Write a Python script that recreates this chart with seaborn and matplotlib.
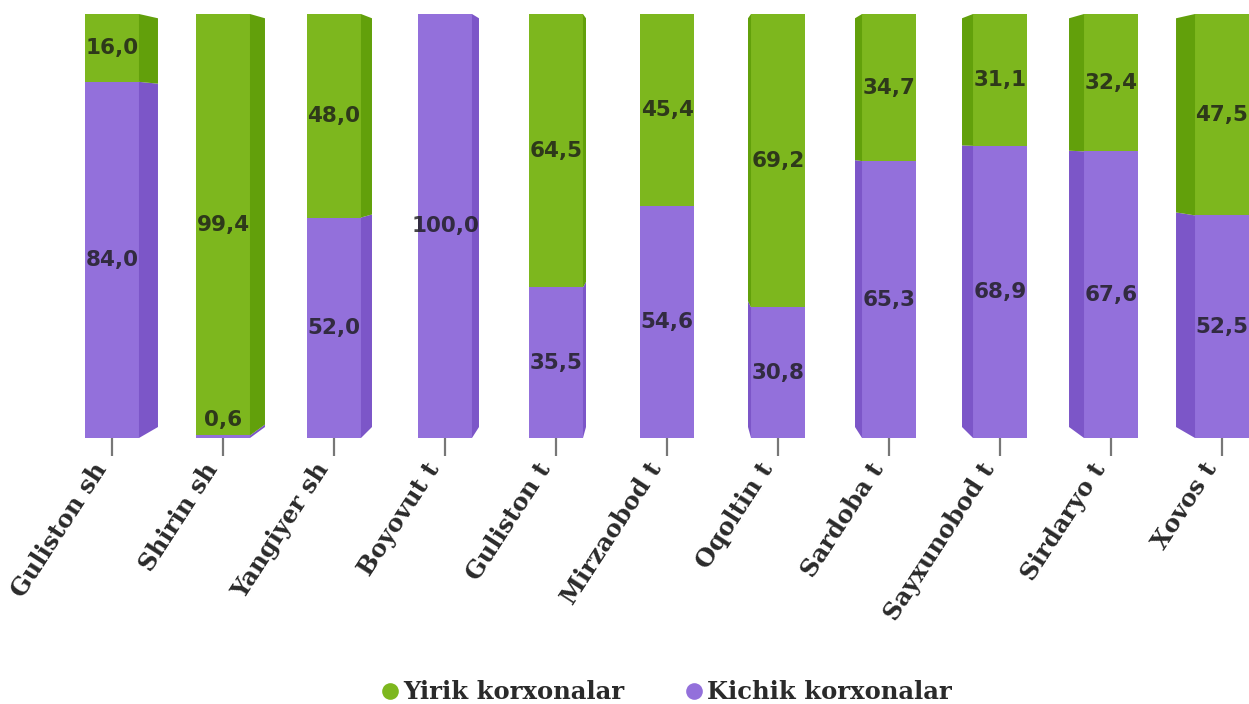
import numpy as np
import pandas as pd
import matplotlib
matplotlib.use('Agg')
import matplotlib.pyplot as plt
import seaborn as sns
from matplotlib.patches import Polygon
from matplotlib.lines import Line2D

# Data
districts = ['Guliston sh', 'Shirin sh', 'Yangiyer sh', 'Boyovut t', 'Guliston t',
             'Mirzaobod t', 'Oqoltin t', 'Sardoba t', 'Sayxunobod t', 'Sirdaryo t', 'Xovos t']
yirik = [16.0, 99.4, 48.0, 0.0, 64.5, 45.4, 69.2, 34.7, 31.1, 32.4, 47.5]
kichik = [84.0, 0.6, 52.0, 100.0, 35.5, 54.6, 30.8, 65.3, 68.9, 67.6, 52.5]

df = pd.DataFrame({'district': districts, 'yirik': yirik, 'kichik': kichik})
df['total'] = df['yirik'] + df['kichik']

green, green_side = '#7db71e', '#62a00b'
purple, purple_side = '#9370db', '#7c56c8'

sns.set_style('white')

fig = plt.figure(figsize=(12.49, 7.04), dpi=100)
ax = fig.add_axes([56.5 / 1249, 266 / 704, 1221 / 1249, 424 / 704])

bar_w = 0.486
sns.barplot(data=df, x='district', y='total', color=green, saturation=1,
            width=bar_w, linewidth=0, ax=ax)
sns.barplot(data=df, x='district', y='kichik', color=purple, saturation=1,
            width=bar_w, linewidth=0, ax=ax)

# fake 3D side faces, converging to a vanishing point
vx, vy, k = 5.0, 72.0, 0.036
for i in range(len(df)):
    if i == vx:
        continue
    xe = i + bar_w / 2 * np.sign(vx - i)
    xb = xe + (vx - xe) * k
    segs = [(0, df['kichik'][i], purple_side),
            (df['kichik'][i], df['total'][i], green_side)]
    for y0, y1, c in segs:
        if y1 - y0 <= 0:
            continue
        pts = [(xe, y0), (xe, y1),
               (xb, y1 + (vy - y1) * k), (xb, y0 + (vy - y0) * k)]
        ax.add_patch(Polygon(pts, closed=True, facecolor=c, edgecolor='none', zorder=1))

# value labels
lbl = dict(ha='center', fontsize=15.5, fontweight='bold', family='DejaVu Sans',
           color='#1a1a1a', alpha=0.8, zorder=5)
for i in range(len(df)):
    kv, yv = df['kichik'][i], df['yirik'][i]
    if kv > 0:
        if kv < 3:
            ax.text(i, kv + 1.2, f'{kv:.1f}'.replace('.', ','), va='bottom', **lbl)
        else:
            ax.text(i, kv / 2, f'{kv:.1f}'.replace('.', ','), va='center', **lbl)
    if yv > 0:
        ax.text(i, kv + yv / 2, f'{yv:.1f}'.replace('.', ','), va='center', **lbl)

ax.set_ylim(0, 100)
ax.set_xlim(-0.5, len(df) - 0.5)
ax.set_xlabel('')
ax.set_ylabel('')
ax.set_yticks([])
sns.despine(ax=ax, left=True, bottom=True)
ax.tick_params(axis='x', length=13, width=1.6, color='#777777', pad=11, bottom=True)
plt.setp(ax.get_xticklabels(), rotation=57, ha='right', va='bottom', rotation_mode='anchor',
         fontsize=17.5, fontweight='bold', family='DejaVu Serif', color='#2a2a2a')

handles = [Line2D([0], [0], marker='o', linestyle='', markersize=12,
                  markerfacecolor=green, markeredgecolor='none', label='Yirik korxonalar'),
           Line2D([0], [0], marker='o', linestyle='', markersize=12,
                  markerfacecolor=purple, markeredgecolor='none', label='Kichik korxonalar')]
fig.legend(handles=handles, loc='center', bbox_to_anchor=(0.534, 0.017), ncol=2,
           frameon=False, handlelength=0.7, handletextpad=0.2, columnspacing=2.5,
           prop={'family': 'DejaVu Serif', 'weight': 'bold', 'size': 17.5})
for t in fig.legends[0].get_texts():
    t.set_color('#2a2a2a')

plt.savefig('out.png', dpi=100)
